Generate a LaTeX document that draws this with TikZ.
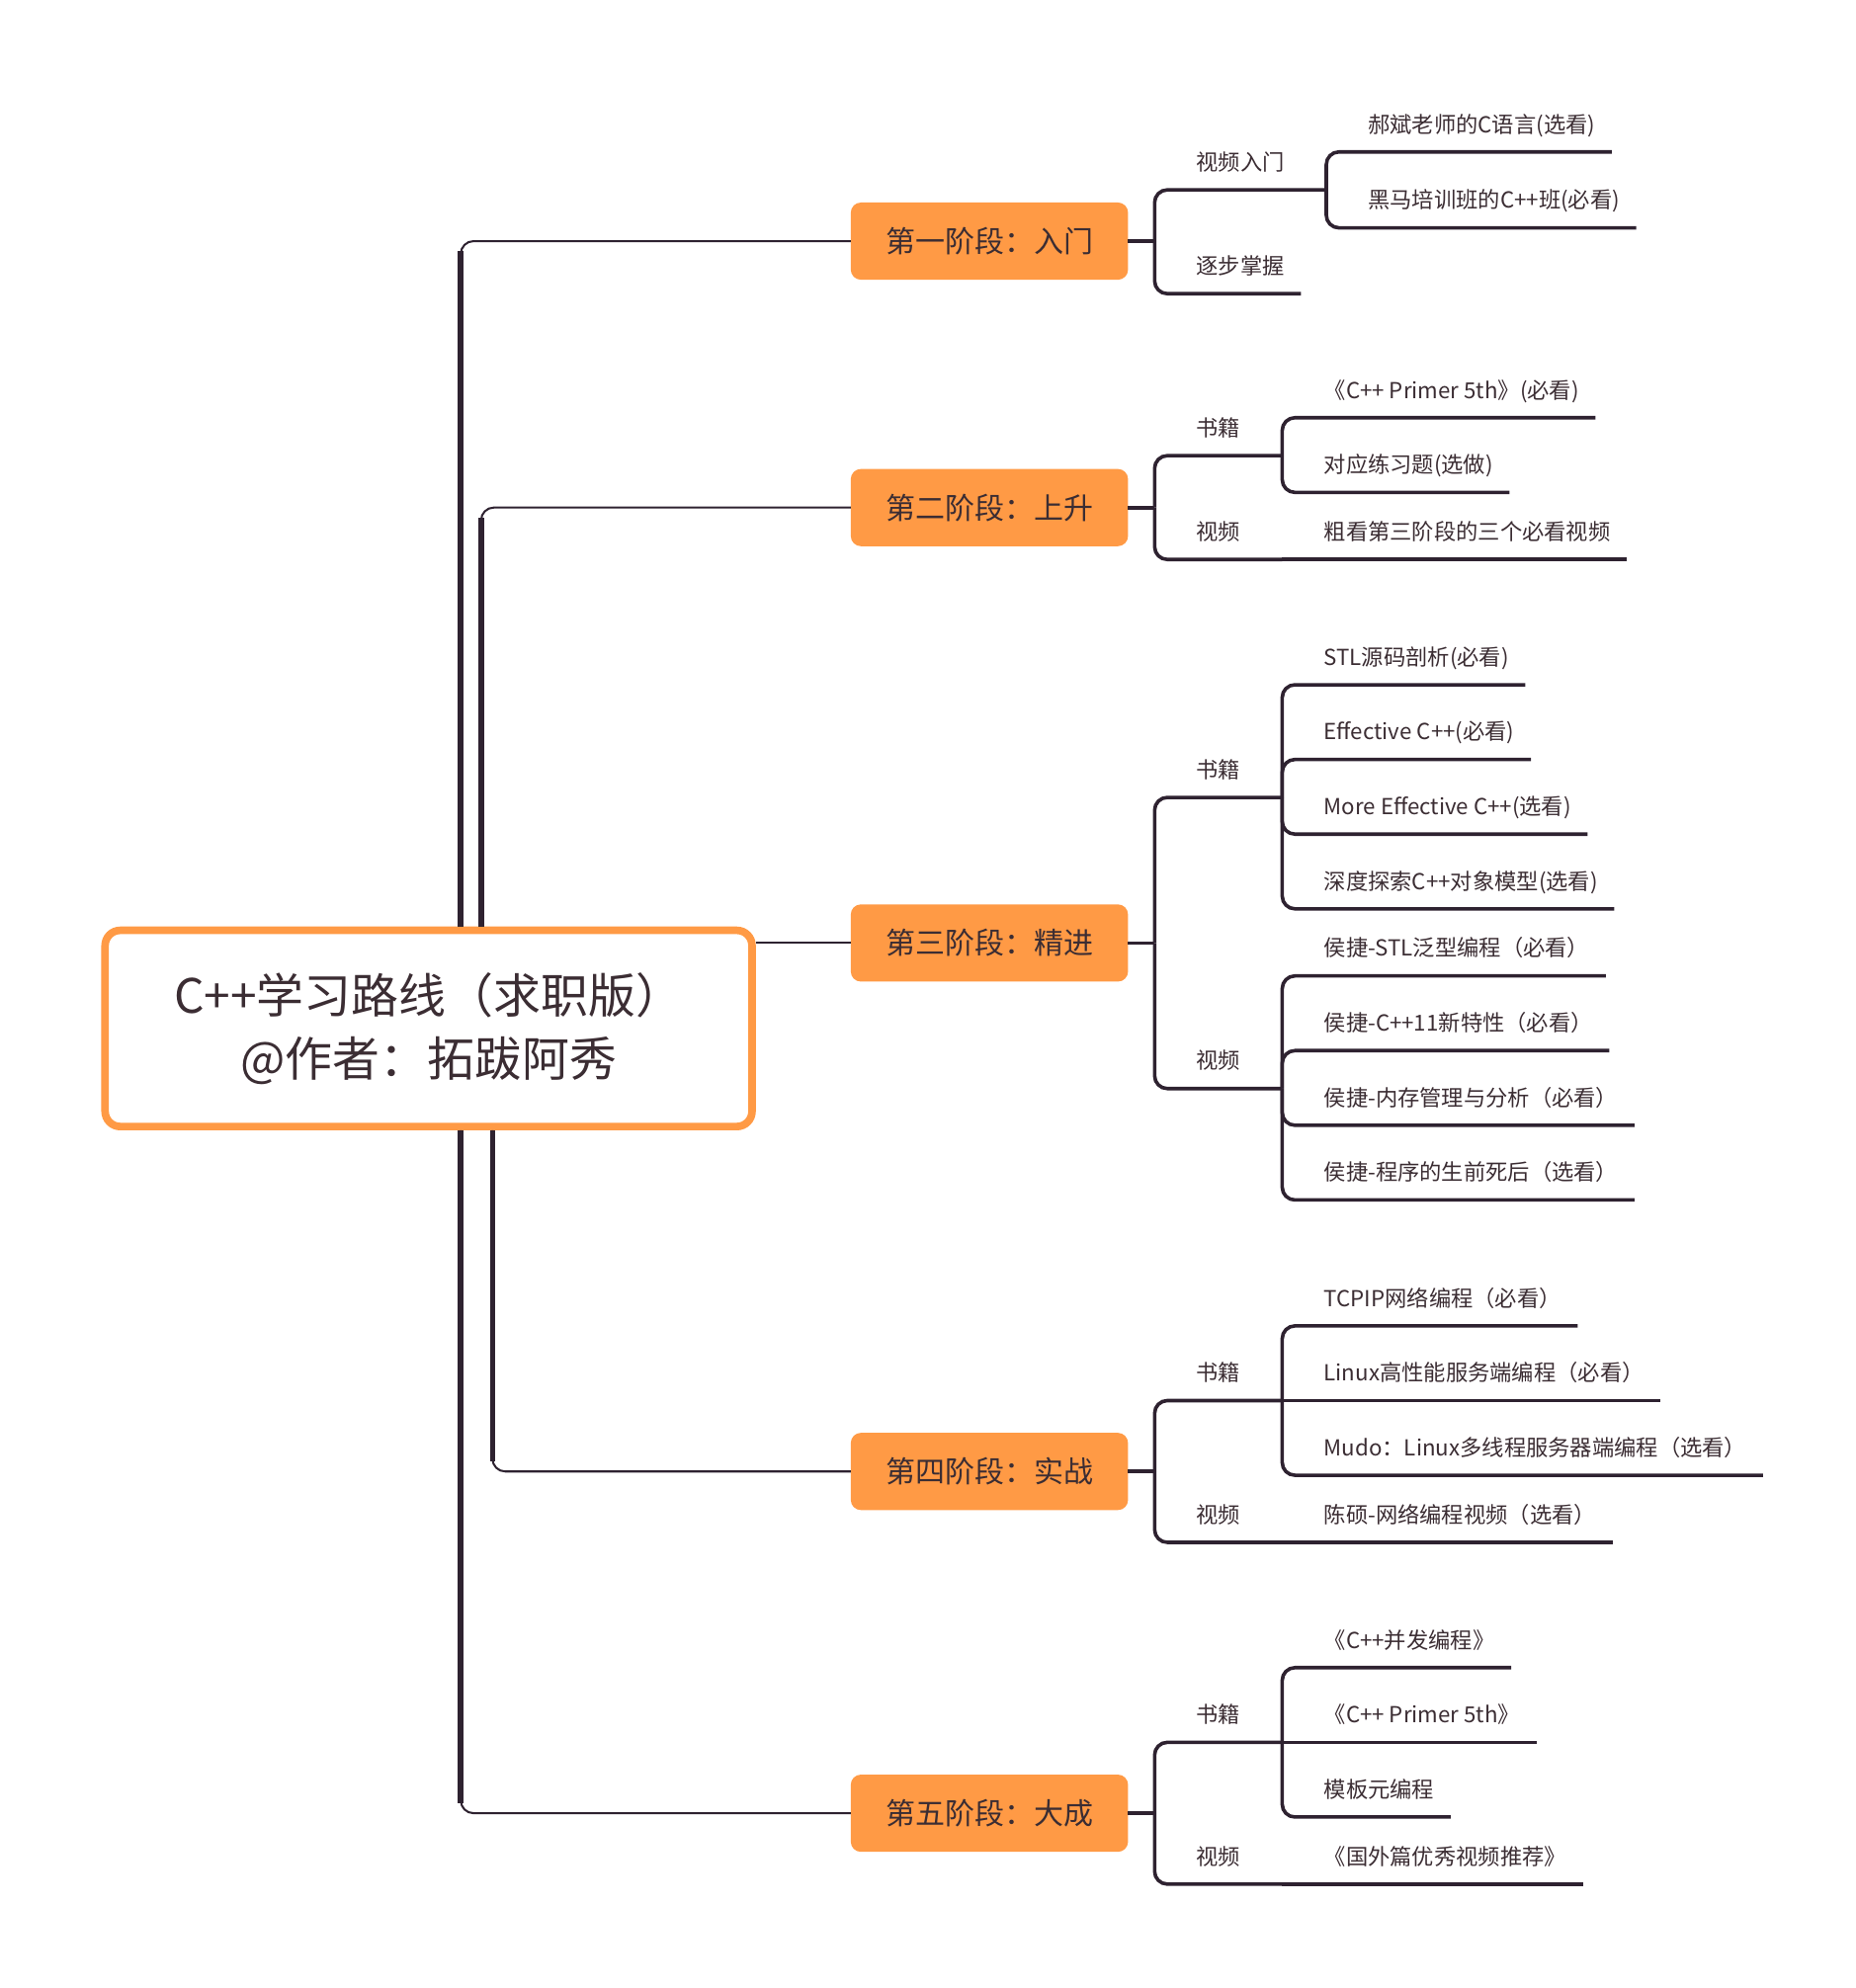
\documentclass[tikz,border=0pt]{standalone}
\usepackage{fontspec}
\setmainfont{Noto Sans CJK SC}
\usetikzlibrary{positioning}

\definecolor{mmorange}{HTML}{FF9A45}
\definecolor{mmline}{HTML}{2E2230}
\definecolor{mmtext}{HTML}{3B2D33}

\begin{document}
\begin{tikzpicture}[
    x = 0.5pt, y = -0.5pt, % one unit is one pixel of the layout
    text = mmtext,
    root/.style = {draw = mmorange, line width = 3pt, fill = white,
        rounded corners = 6pt, minimum width = 255.5pt, minimum height = 77.5pt,
        align = center, font = \fontsize{18.7}{25}\selectfont},
    stage/.style = {fill = mmorange, rounded corners = 4pt, inner sep = 0pt,
        outer sep = 0pt, minimum width = 109.5pt, minimum height = 30.5pt,
        font = \fontsize{11.7}{14}\selectfont},
    topic/.style = {anchor = south west, inner xsep = 16.5pt, inner ysep = 7.7pt,
        text depth = 0pt, outer sep = 0pt, font = \fontsize{8.7}{10}\selectfont},
    leaf/.style = {topic, inner xsep = 6.5pt,
        execute at begin node = \hspace*{10pt}},
    trunk/.style = {draw = mmline, line width = 0.8pt, rounded corners = 5pt},
    stemline/.style = {draw = mmline, line width = 2.2pt, shorten > = 4pt},
    branch/.style = {draw = mmline, line width = 1.4pt, rounded corners = 5pt}
    ]

    \useasboundingbox (0,0) rectangle (1466,1570.6);

    \node[root] (c) at (338.5,812.5) {C++学习路线（求职版）\\@作者：拓跋阿秀};

    \node[stage] (s1) at (781.5,190.5) {第一阶段：入门};
    \node[stage] (s2) at (781.5,401) {第二阶段：上升};
    \node[stage] (s3) at (781.5,745) {第三阶段：精进};
    \node[stage] (s4) at (781.5,1162.5) {第四阶段：实战};
    \node[stage] (s5) at (781.5,1432.5) {第五阶段：大成};

    \coordinate (k1) at ([xshift=142pt]c.north west);
    \coordinate (k2) at ([xshift=150pt]c.north west);
    \coordinate (k4) at ([xshift=154.5pt]c.south west);
    \coordinate (k5) at ([xshift=142pt]c.south west);

    % stage 1
    \coordinate (j1) at ([xshift=10.5pt]s1.east);
    \node[topic] (t11) at ([yshift=20.25pt]j1) {视频入门};
    \node[leaf] (t12) at ([yshift=-20.75pt]j1) {逐步掌握};
    \node[leaf] (l111) at ([yshift=15pt]t11.south east) {郝斌老师的C语言(选看)};
    \node[leaf] (l112) at ([yshift=-15pt]t11.south east) {黑马培训班的C++班(必看)};

    % stage 2
    \coordinate (j2) at ([xshift=10.5pt]s2.east);
    \node[topic] (t21) at ([yshift=20.5pt]j2) {书籍};
    \node[topic] (t22) at ([yshift=-20.5pt]j2) {视频};
    \node[leaf] (l211) at ([yshift=15pt]t21.south east) {《C++ Primer 5th》(必看)};
    \node[leaf] (l212) at ([yshift=-14.5pt]t21.south east) {对应练习题(选做)};
    \node[leaf] (l221) at (t22.south east) {粗看第三阶段的三个必看视频};

    % stage 3
    \coordinate (j3) at ([xshift=10.5pt]s3.east);
    \node[topic] (t31) at ([yshift=57.5pt]j3) {书籍};
    \node[topic] (t32) at ([yshift=-57.5pt]j3) {视频};
    \node[leaf] (l311) at ([yshift=44.5pt]t31.south east) {STL源码剖析(必看)};
    \node[leaf] (l312) at ([yshift=15pt]t31.south east) {Effective C++(必看)};
    \node[leaf] (l313) at ([yshift=-14.5pt]t31.south east) {More Effective C++(选看)};
    \node[leaf] (l314) at ([yshift=-44pt]t31.south east) {深度探索C++对象模型(选看)};
    \node[leaf] (l321) at ([yshift=44.5pt]t32.south east) {侯捷-STL泛型编程（必看）};
    \node[leaf] (l322) at ([yshift=15pt]t32.south east) {侯捷-C++11新特性（必看）};
    \node[leaf] (l323) at ([yshift=-14.5pt]t32.south east) {侯捷-内存管理与分析（必看）};
    \node[leaf] (l324) at ([yshift=-44pt]t32.south east) {侯捷-程序的生前死后（选看）};

    % stage 4
    \coordinate (j4) at ([xshift=10.5pt]s4.east);
    \node[topic] (t41) at ([yshift=28pt]j4) {书籍};
    \node[topic] (t42) at ([yshift=-28pt]j4) {视频};
    \node[leaf] (l411) at ([yshift=29.5pt]t41.south east) {TCPIP网络编程（必看）};
    \node[leaf] (l412) at (t41.south east) {Linux高性能服务端编程（必看）};
    \node[leaf] (l413) at ([yshift=-29.5pt]t41.south east) {Mudo：Linux多线程服务器端编程（选看）};
    \node[leaf] (l421) at (t42.south east) {陈硕-网络编程视频（选看）};

    % stage 5
    \coordinate (j5) at ([xshift=10.5pt]s5.east);
    \node[topic] (t51) at ([yshift=28pt]j5) {书籍};
    \node[topic] (t52) at ([yshift=-28pt]j5) {视频};
    \node[leaf] (l511) at ([yshift=29.5pt]t51.south east) {《C++并发编程》};
    \node[leaf] (l512) at (t51.south east) {《C++ Primer 5th》};
    \node[leaf] (l513) at ([yshift=-29.5pt]t51.south east) {模板元编程};
    \node[leaf] (l521) at (t52.south east) {《国外篇优秀视频推荐》};

    % root to stages
    \draw[trunk] (k1) |- (s1.west);
    \draw[trunk] (k2) |- (s2.west);
    \draw[trunk] (c.east |- s3.west) -- (s3.west);
    \draw[trunk] (k4) |- (s4.west);
    \draw[trunk] (k5) |- (s5.west);
    \draw[stemline] (k1) -- (k1 |- s1.west);
    \draw[stemline] (k2) -- (k2 |- s2.west);
    \draw[stemline] (k4) -- (k4 |- s4.west);
    \draw[stemline] (k5) -- (k5 |- s5.west);

    % stages to topics
    \draw[branch] (s1.east) -- (j1);
    \draw[branch] (j1) -- (t11.south west) -- (t11.south east);
    \draw[branch] (j1) -- (t12.south west) -- (t12.south east);
    \draw[branch] (s2.east) -- (j2);
    \draw[branch] (j2) -- (t21.south west) -- (t21.south east);
    \draw[branch] (j2) -- (t22.south west) -- (t22.south east);
    \draw[branch] (s3.east) -- (j3);
    \draw[branch] (j3) -- (t31.south west) -- (t31.south east);
    \draw[branch] (j3) -- (t32.south west) -- (t32.south east);
    \draw[branch] (s4.east) -- (j4);
    \draw[branch] (j4) -- (t41.south west) -- (t41.south east);
    \draw[branch] (j4) -- (t42.south west) -- (t42.south east);
    \draw[branch] (s5.east) -- (j5);
    \draw[branch] (j5) -- (t51.south west) -- (t51.south east);
    \draw[branch] (j5) -- (t52.south west) -- (t52.south east);

    % topics to leaves
    \draw[branch] (t11.south east) -- (l111.south west) -- (l111.south east);
    \draw[branch] (t11.south east) -- (l112.south west) -- (l112.south east);
    \draw[branch] (t21.south east) -- (l211.south west) -- (l211.south east);
    \draw[branch] (t21.south east) -- (l212.south west) -- (l212.south east);
    \draw[branch] (t22.south east) -- (l221.south east);
    \draw[branch] (t31.south east) -- (l311.south west) -- (l311.south east);
    \draw[branch] (t31.south east) -- (l312.south west) -- (l312.south east);
    \draw[branch] (t31.south east) -- (l313.south west) -- (l313.south east);
    \draw[branch] (t31.south east) -- (l314.south west) -- (l314.south east);
    \draw[branch] (t32.south east) -- (l321.south west) -- (l321.south east);
    \draw[branch] (t32.south east) -- (l322.south west) -- (l322.south east);
    \draw[branch] (t32.south east) -- (l323.south west) -- (l323.south east);
    \draw[branch] (t32.south east) -- (l324.south west) -- (l324.south east);
    \draw[branch] (t41.south east) -- (l411.south west) -- (l411.south east);
    \draw[branch] (t41.south east) -- (l412.south east);
    \draw[branch] (t41.south east) -- (l413.south west) -- (l413.south east);
    \draw[branch] (t42.south east) -- (l421.south east);
    \draw[branch] (t51.south east) -- (l511.south west) -- (l511.south east);
    \draw[branch] (t51.south east) -- (l512.south east);
    \draw[branch] (t51.south east) -- (l513.south west) -- (l513.south east);
    \draw[branch] (t52.south east) -- (l521.south east);
\end{tikzpicture}
\end{document}
